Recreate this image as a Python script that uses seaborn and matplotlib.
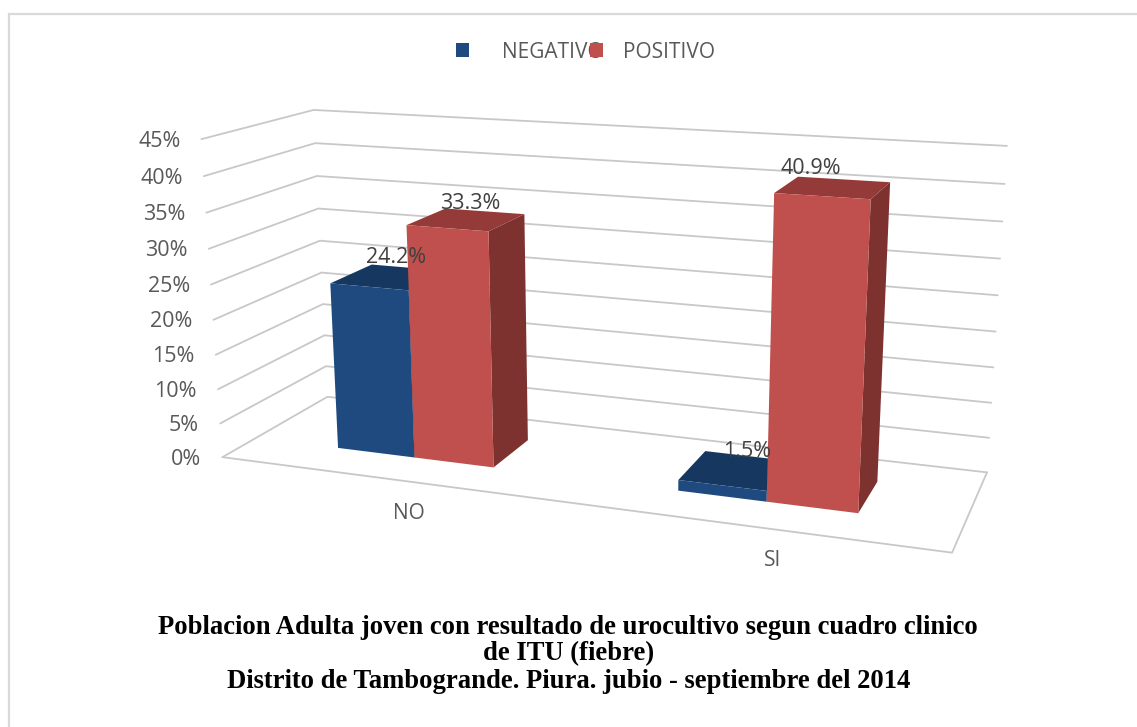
import numpy as np
import pandas as pd
import matplotlib
matplotlib.use("Agg")
import matplotlib.pyplot as plt
from matplotlib.patches import Polygon, Rectangle
from matplotlib.transforms import Transform
import seaborn as sns

# ---- data ----
categories = ["NO", "SI"]
series_names = ["NEGATIVO", "POSITIVO"]
negativo = [24.2, 1.5]
positivo = [33.3, 40.9]
value_ticks = [0, 5, 10, 15, 20, 25, 30, 35, 40, 45]

W, H = 1137, 727
FRONT = {"NEGATIVO": "#1F4A80", "POSITIVO": "#C0504D"}
TOP = {"NEGATIVO": "#16375F", "POSITIVO": "#943A38"}
SIDE = {"NEGATIVO": "#132F52", "POSITIVO": "#7E3230"}
TEXT = "#595959"
GRID = "#C8C8C8"
UI = ["Open Sans", "DejaVu Sans"]

# camera: (category, value, depth) -> pixel, fitted on the box corners
U0, U1, VT = -0.5, 1.5, 45
anchors = [
    ((U0, 0, 0), (222, 457)), ((U1, 0, 0), (952, 553)),
    ((U0, 0, 1), (328, 397)), ((U1, 0, 1), (987, 472)),
    ((U0, VT, 0), (202, 139)), ((U0, VT, 1), (313, 110)),
    ((U1, VT, 1), (1007, 146)),
]
A, b = [], []
for (u, v, d), (px, py) in anchors:
    A.append([u, v, d, 1, 0, 0, 0, 0, -px * u, -px * v, -px * d]); b.append(px)
    A.append([0, 0, 0, 0, u, v, d, 1, -py * u, -py * v, -py * d]); b.append(py)
P = np.append(np.linalg.lstsq(np.array(A, float), np.array(b, float), rcond=None)[0], 1.0).reshape(3, 4)


def project(u, v, d):
    u, v, d = np.broadcast_arrays(np.asarray(u, float), np.asarray(v, float), np.asarray(d, float))
    q = P @ np.stack([u.ravel(), v.ravel(), d.ravel(), np.ones(u.size)])
    return np.column_stack([q[0] / q[2], q[1] / q[2]])


class DepthPlane(Transform):
    input_dims = output_dims = 2
    is_separable = False
    has_inverse = False

    def __init__(self, plane_depth):
        super().__init__()
        self.plane_depth = plane_depth

    def transform_non_affine(self, values):
        values = np.asarray(values, float)
        return project(values[:, 0], values[:, 1], self.plane_depth)


D0, D1 = 0.30, 0.71

sns.set_theme(style="white")
plt.rcParams["font.family"] = UI
fig = plt.figure(figsize=(W / 100, H / 100), dpi=100, facecolor="white")
ax = fig.add_axes([0, 0, 1, 1])

df = pd.DataFrame({
    "categoria": categories * 2,
    "serie": [series_names[0]] * 2 + [series_names[1]] * 2,
    "valor": negativo + positivo,
})
sns.barplot(data=df, x="categoria", y="valor", hue="serie", order=categories,
            hue_order=series_names, palette=FRONT, width=0.475, gap=0,
            saturation=1, errorbar=None, legend=False, ax=ax, zorder=5)

bars = [p for p in ax.patches if isinstance(p, Rectangle)]
plane = DepthPlane(D0) + ax.transData
ax.set_xlim(0, W)
ax.set_ylim(H, 0)
ax.axis("off")

# frame: only the left and top edges are inside the picture
ax.plot([9, 9, W], [H, 14, 14], color="#D9D9D9", lw=1.6, zorder=0, solid_joinstyle="miter")

# wall grid and floor
for v in value_ticks:
    uu = np.array([U0, U0, U1])
    dd = np.array([0, 1, 1])
    xy = project(uu, v, dd)
    ax.plot(xy[:, 0], xy[:, 1], color=GRID, lw=1.3, zorder=1)
    lx, ly = project(U0, v, 0)[0]
    ax.text(lx - 21, ly + 2, f"{v}%", ha="right", va="center", fontsize=15.5, color=TEXT, zorder=8)
xy = project([U0, U1, U1], 0, [0, 0, 1])
ax.plot(xy[:, 0], xy[:, 1], color=GRID, lw=1.3, zorder=1)

# bars: front faces come from seaborn, other faces from the same camera
label_offset = {0: (27, -29), 1: (25, -34), 2: (23, -25), 3: (-11, -28)}
values = negativo + positivo
for i, bar in enumerate(bars):
    name = series_names[i // 2]
    bar.set_transform(plane)
    bar.set_clip_on(False)
    bar.set_linewidth(0)
    z = 5 + i // 2 * 2
    bar.set_zorder(z + 0.5)
    x0, x1, v = bar.get_x(), bar.get_x() + bar.get_width(), bar.get_height()
    top = project([x0, x1, x1, x0], v, [D0, D0, D1, D1])
    side = project([x1, x1, x1, x1], [0, v, v, 0], [D0, D0, D1, D1])
    ax.add_patch(Polygon(side, closed=True, fc=SIDE[name], ec="none", zorder=z))
    ax.add_patch(Polygon(top, closed=True, fc=TOP[name], ec="none", zorder=z + 0.2))
    cx, cy = project((x0 + x1) / 2, v, D0)[0]
    ox, oy = label_offset[i]
    ax.text(cx + ox, cy + oy, f"{values[i]:.1f}%", ha="center", va="center",
            fontsize=15.5, color="#404040", zorder=9)

# category labels
for i, c in enumerate(categories):
    x, y = project(i, 0, 0)[0]
    ax.text(x + 24, y + 35, c, ha="center", va="center", fontsize=15, color=TEXT, zorder=8)

# legend
FS = 15
EM = FS * 100 / 72
for name, hx, tgap in zip(series_names, (456, 590), (33, 20)):
    h = Rectangle((0, 0), 1, 1, fc=FRONT[name], ec="none")
    leg = fig.legend(handles=[h], labels=[name], loc="center left",
                     bbox_to_anchor=(hx / W, 1 - 52 / H), frameon=False,
                     borderpad=0, borderaxespad=0, handlelength=13 / EM, handleheight=13 / EM,
                     handletextpad=tgap / EM, fontsize=FS, labelcolor=TEXT)

# caption
cap = ["Poblacion Adulta joven con resultado de urocultivo segun cuadro clinico",
       "de ITU (fiebre)",
       "Distrito de Tambogrande. Piura. jubio - septiembre del 2014"]
for line, cxp, yp in zip(cap, (568, 569, 569), (634, 660, 688)):
    ax.text(cxp, yp, line, ha="center", va="baseline", fontsize=19.2, fontweight="bold",
            family="Liberation Serif", color="black", zorder=10)

fig.savefig("out.png", dpi=100)
